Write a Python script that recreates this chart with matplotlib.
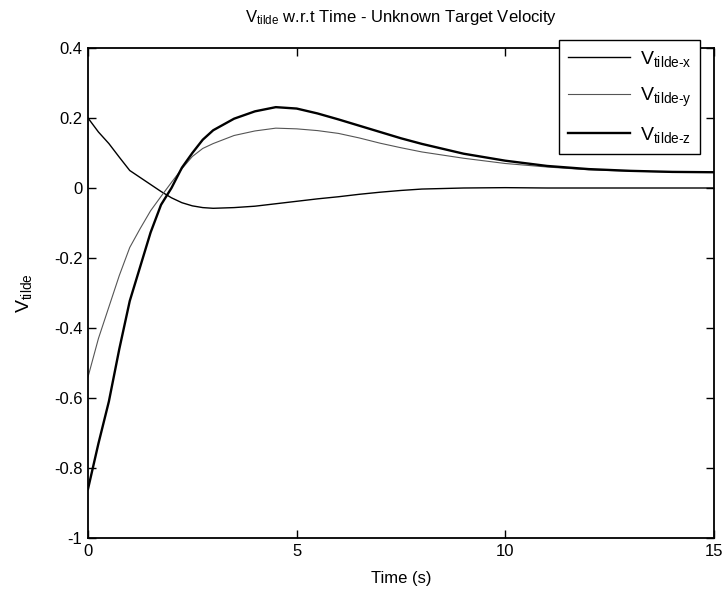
import numpy as np
import matplotlib
matplotlib.use('Agg')
import matplotlib.pyplot as plt

# font setup so text looks like the old MATLAB Helvetica output
plt.rcParams['font.family'] = ['Liberation Sans', 'DejaVu Sans']
plt.rcParams['mathtext.fontset'] = 'custom'
plt.rcParams['mathtext.rm'] = 'Liberation Sans'
plt.rcParams['mathtext.it'] = 'Liberation Sans'

# values
t = [0, 0.25, 0.5, 0.75, 1, 1.25, 1.5, 1.75, 2, 2.25, 2.5, 2.75, 3, 3.5, 4, 4.5, 5,
     5.5, 6, 6.5, 7, 7.5, 8, 9, 10, 11, 12, 13, 14, 15]
v_x = [0.2, 0.16, 0.127, 0.088, 0.05, 0.03, 0.01, -0.01, -0.028, -0.042, -0.051,
       -0.056, -0.058, -0.056, -0.052, -0.045, -0.038, -0.031, -0.025, -0.018,
       -0.012, -0.007, -0.003, 0.0, 0.001, 0.0, 0.0, 0.0, 0.0, 0.0]
v_y = [-0.54, -0.43, -0.34, -0.25, -0.17, -0.116, -0.065, -0.024, 0.016, 0.055,
       0.09, 0.113, 0.127, 0.15, 0.163, 0.171, 0.169, 0.164, 0.156, 0.143, 0.128,
       0.115, 0.103, 0.085, 0.07, 0.06, 0.052, 0.048, 0.046, 0.045]
v_z = [-0.86, -0.73, -0.61, -0.46, -0.323, -0.225, -0.127, -0.048, 0.0, 0.058,
       0.1, 0.138, 0.165, 0.198, 0.219, 0.231, 0.227, 0.213, 0.196, 0.178, 0.16,
       0.142, 0.126, 0.098, 0.078, 0.063, 0.054, 0.049, 0.046, 0.045]

labels = ['V$_{\\text{tilde-x}}$', 'V$_{\\text{tilde-y}}$', 'V$_{\\text{tilde-z}}$']
x_ticks = [0, 5, 10, 15]
y_ticks = [-1, -0.8, -0.6, -0.4, -0.2, 0, 0.2, 0.4]
y_tick_labels = ['-1', '-0.8', '-0.6', '-0.4', '-0.2', '0', '0.2', '0.4']

fig = plt.figure(figsize=(7.26, 5.95), dpi=100)
ax = fig.add_axes([88 / 726, 57 / 595, 626 / 726, 490 / 595])

ax.plot(t, v_x, color='black', linewidth=1.0, label=labels[0])
ax.plot(t, v_y, color='#555555', linewidth=0.8, label=labels[1])
ax.plot(t, v_z, color='black', linewidth=1.7, label=labels[2])

ax.set_xlim(0, 15)
ax.set_ylim(-1, 0.4)
ax.set_xticks(x_ticks)
ax.set_yticks(y_ticks)
ax.set_yticklabels(y_tick_labels)
ax.tick_params(direction='in', top=True, right=True, length=6, width=1,
               labelsize=12, pad=4)
for s in ax.spines.values():
    s.set_linewidth(1.3)

ax.set_title('V$_{\\text{tilde}}$ w.r.t Time - Unknown Target Velocity', fontsize=12, pad=19)
ax.set_xlabel('Time (s)', fontsize=12, labelpad=9)
ax.set_ylabel('V$_{\\text{tilde}}$', fontsize=14, labelpad=14)

leg = ax.legend(loc='upper right', bbox_to_anchor=(0.978, 1.016), borderaxespad=0,
                fancybox=False, framealpha=1, edgecolor='black', fontsize=14,
                handlelength=3.2, labelspacing=0.85, borderpad=0.45, handletextpad=0.5)
leg.get_frame().set_linewidth(1.0)

plt.savefig('out.png', dpi=100)
